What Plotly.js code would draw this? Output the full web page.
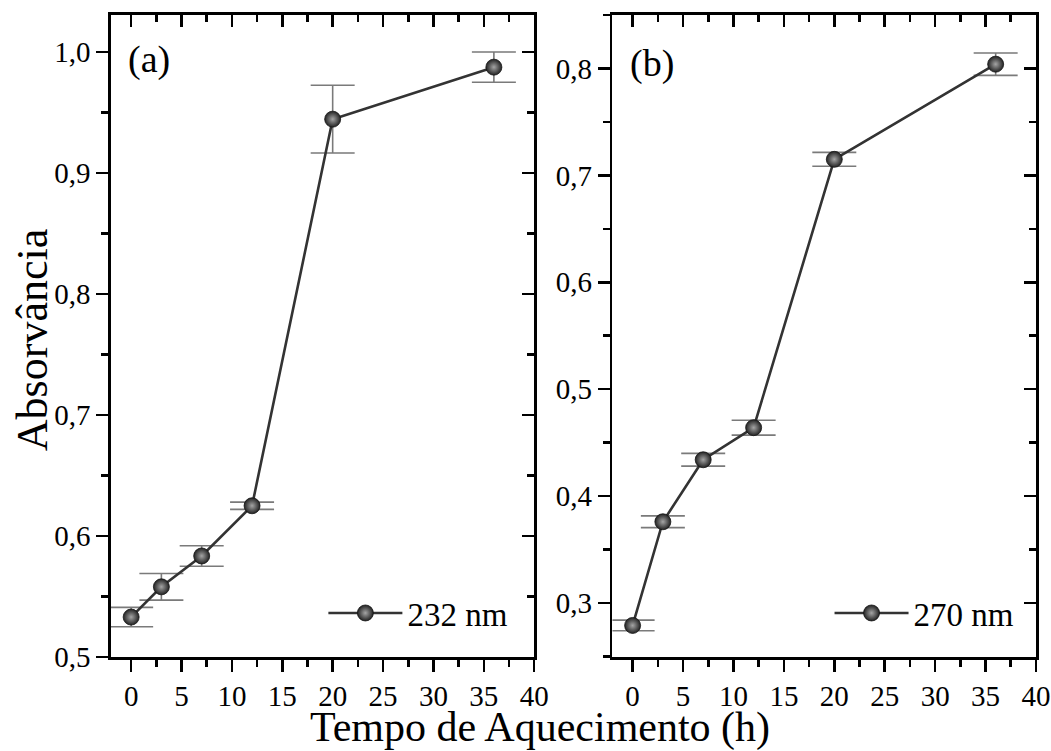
<!DOCTYPE html>
<html>
<head>
<meta charset="utf-8">
<script src="https://cdn.plot.ly/plotly-3.0.1.min.js"></script>
<style>html,body{margin:0;padding:0;background:#fff;}#chart{width:1051px;height:751px;}</style>
</head>
<body>
<div id="chart"></div>
<script>
// Data
const timeHours = [0, 3, 7, 12, 20, 36];
const abs232 = [0.533, 0.558, 0.5835, 0.625, 0.9445, 0.9875];
const err232 = [0.008, 0.011, 0.0085, 0.003, 0.028, 0.0125];
const abs270 = [0.279, 0.376, 0.434, 0.464, 0.715, 0.804];
const err270 = [0.005, 0.0055, 0.006, 0.007, 0.0065, 0.0105];
const seriesNames = ['232 nm', '270 nm'];
const panelLabels = ['(a)', '(b)'];
const xTitle = 'Tempo de Aquecimento (h)';
const yTitle = 'Absorvância';

const FONT = 'Liberation Serif, Times New Roman, serif';
const markerStyle = {
  size: 16,
  color: '#222222',
  line: {color: '#151515', width: 0.8},
  gradient: {type: 'radial', color: '#a5a5a5'}
};
const lineStyle = {color: '#333333', width: 2.6};

function trace(y, err, name, xa, ya, legend) {
  return {
    x: timeHours, y: y, name: name, type: 'scatter', mode: 'lines+markers',
    xaxis: xa, yaxis: ya, legend: legend,
    line: lineStyle, marker: markerStyle,
    error_y: {type: 'data', array: err, visible: true, color: '#7a7a7a', thickness: 1.6, width: 22}
  };
}
// empty helper traces so the mirrored (inward) tick axes get drawn
function helper(xa, ya) {
  return {x: [null], y: [null], type: 'scatter', mode: 'markers', xaxis: xa, yaxis: ya,
          showlegend: false, hoverinfo: 'skip', marker: {opacity: 0}};
}

const data = [
  trace(abs232, err232, seriesNames[0], 'x', 'y', 'legend'),
  trace(abs270, err270, seriesNames[1], 'x2', 'y2', 'legend2'),
  helper('x3', 'y'), helper('x', 'y3'),
  helper('x4', 'y2'), helper('x2', 'y4')
];

const tickFont = {family: FONT, size: 29, color: '#000'};
function mainX(domain, anchor) {
  return {
    domain: domain, anchor: anchor, range: [-2, 40], dtick: 5, tick0: 0,
    showgrid: false, zeroline: false, showline: true, linecolor: '#000', linewidth: 2.6, mirror: true,
    ticks: 'outside', ticklen: 12, tickwidth: 2.6, tickcolor: '#000', tickfont: tickFont,
    minor: {dtick: 2.5, tick0: 0, ticks: 'outside', ticklen: 7, tickwidth: 2.6, tickcolor: '#000', showgrid: false}
  };
}
function mainY(range, anchor) {
  return {
    anchor: anchor, range: range, dtick: 0.1, tick0: 0, tickformat: '.1f',
    showgrid: false, zeroline: false, showline: true, linecolor: '#000', linewidth: 2.6, mirror: true,
    ticks: 'outside', ticklen: 12, tickwidth: 2.6, tickcolor: '#000', tickfont: tickFont,
    minor: {dtick: 0.05, tick0: 0, ticks: 'outside', ticklen: 7, tickwidth: 2.6, tickcolor: '#000', showgrid: false}
  };
}
function overX(over, anchor, domain) {
  return {
    overlaying: over, anchor: anchor, side: 'top', domain: domain, range: [-2, 40], dtick: 5, tick0: 0,
    showgrid: false, zeroline: false, showline: false, showticklabels: false,
    ticks: 'inside', ticklen: 12, tickwidth: 2.6, tickcolor: '#000',
    minor: {dtick: 2.5, tick0: 0, ticks: 'inside', ticklen: 7, tickwidth: 2.6, tickcolor: '#000', showgrid: false}
  };
}
function overY(over, anchor, range) {
  return {
    overlaying: over, anchor: anchor, side: 'right', range: range, dtick: 0.1, tick0: 0,
    showgrid: false, zeroline: false, showline: false, showticklabels: false,
    ticks: 'inside', ticklen: 12, tickwidth: 2.6, tickcolor: '#000',
    minor: {dtick: 0.05, tick0: 0, ticks: 'inside', ticklen: 7, tickwidth: 2.6, tickcolor: '#000', showgrid: false}
  };
}

const domA = [0, 0.4575];
const domB = [0.5421, 1];
const rangeA = [0.5, 1.0306];
const rangeB = [0.2495, 0.85];

const legendBase = {
  font: {family: FONT, size: 33, color: '#000'},
  bgcolor: 'rgba(0,0,0,0)', borderwidth: 0,
  xanchor: 'left', yanchor: 'middle', y: 0.0685, itemwidth: 74, tracegroupgap: 0
};

const layout = {
  width: 1051, height: 751,
  margin: {l: 110.7, r: 15, t: 15, b: 94},
  paper_bgcolor: '#fff', plot_bgcolor: '#fff',
  separators: ',.',
  font: {family: FONT, color: '#000'},
  showlegend: true,
  xaxis: mainX(domA, 'y'),
  yaxis: mainY(rangeA, 'x'),
  xaxis2: mainX(domB, 'y2'),
  yaxis2: mainY(rangeB, 'x2'),
  xaxis3: overX('x', 'y', domA),
  yaxis3: overY('y', 'x', rangeA),
  xaxis4: overX('x2', 'y2', domB),
  yaxis4: overY('y2', 'x2', rangeB),
  legend: Object.assign({}, legendBase, {x: 0.2296}),
  legend2: Object.assign({}, legendBase, {x: 0.7768}),
  annotations: [
    {text: panelLabels[0], xref: 'x domain', yref: 'y domain', x: 0.035, y: 0.93, xanchor: 'left', yanchor: 'middle', showarrow: false, font: {family: FONT, size: 38, color: '#000'}},
    {text: panelLabels[1], xref: 'x2 domain', yref: 'y2 domain', x: 0.037, y: 0.925, xanchor: 'left', yanchor: 'middle', showarrow: false, font: {family: FONT, size: 38, color: '#000'}},
    {text: xTitle, xref: 'paper', yref: 'paper', x: 0.464, y: -0.11, xanchor: 'center', yanchor: 'middle', showarrow: false, font: {family: FONT, size: 42, color: '#000'}},
    {text: yTitle, xref: 'paper', yref: 'paper', x: -0.084, y: 0.494, xanchor: 'center', yanchor: 'middle', textangle: -90, showarrow: false, font: {family: FONT, size: 44, color: '#000'}}
  ]
};

Plotly.newPlot('chart', data, layout, {staticPlot: true, displayModeBar: false});
</script>
</body>
</html>
